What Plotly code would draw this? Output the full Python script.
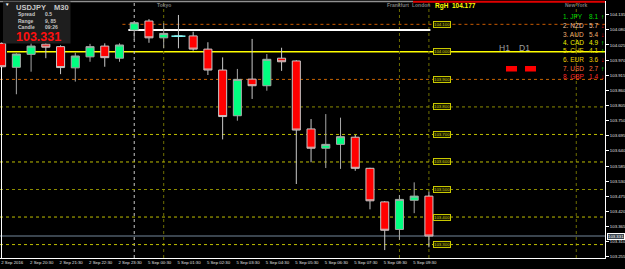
import plotly.graph_objects as go

# ---------------- data ----------------
bars = list(range(30))
opens  = [104.031, 103.944, 103.991, 104.028, 104.019, 103.942, 103.982, 104.021, 103.977, 104.079,
          104.112, 104.051, 104.057, 104.058, 104.010, 103.934, 103.768, 103.901, 103.877, 103.977,
          103.967, 103.720, 103.650, 103.664, 103.690, 103.577, 103.455, 103.355, 103.461, 103.476]
highs  = [104.034, 103.995, 104.031, 104.032, 104.024, 103.997, 104.029, 104.031, 104.031, 104.110,
          104.119, 104.104, 104.134, 104.073, 104.035, 103.980, 103.938, 104.047, 103.992, 104.015,
          103.970, 103.756, 103.774, 103.761, 103.698, 103.579, 103.458, 103.480, 103.526, 103.492]
lows   = [103.940, 103.846, 103.928, 103.977, 103.919, 103.892, 103.964, 103.946, 103.964, 104.043,
          104.033, 104.013, 104.013, 104.004, 103.916, 103.682, 103.750, 103.829, 103.859, 103.931,
          103.520, 103.599, 103.578, 103.575, 103.568, 103.428, 103.280, 103.317, 103.414, 103.290]
closes = [103.946, 103.992, 104.021, 104.017, 103.943, 103.985, 104.019, 103.979, 104.025, 104.106,
          104.051, 104.067, 104.057, 104.010, 103.934, 103.765, 103.900, 103.877, 103.973, 103.964,
          103.716, 103.650, 103.664, 103.692, 103.577, 103.459, 103.352, 103.464, 103.476, 103.331]

tick_bars = [0, 2, 4, 6, 8, 10, 12, 14, 16, 18, 20, 22, 24, 26, 28]
tick_dates = ["2 Sep 2016", "2 Sep 20:30", "2 Sep 21:30", "2 Sep 22:30", "2 Sep 23:30",
              "5 Sep 00:30", "5 Sep 01:30", "5 Sep 02:30", "5 Sep 03:30", "5 Sep 04:30",
              "5 Sep 05:30", "5 Sep 06:30", "5 Sep 07:30", "5 Sep 08:30", "5 Sep 09:30"]
price_ticks = [104.135, 104.080, 104.025, 103.970, 103.915, 103.860, 103.805, 103.750, 103.695,
               103.640, 103.585, 103.530, 103.475, 103.420, 103.365, 103.310, 103.255]

levels = [104.100, 104.000, 103.900, 103.800, 103.700, 103.600, 103.500, 103.400, 103.300]
level_colors = ["#C85A00", "#FFFF00", "#C86400", "#8C8C00", "#BEBE00", "#BEBE00", "#8C8C00", "#BEBE00", "#BEBE00"]

day_sep_bar = 9
sessions = ["Tokyo", "Frankfurt", "London", "New York"]
session_bars = [11, 27, 29, 39]

currencies = ["JPY", "NZD", "AUD", "CAD", "CHF", "EUR", "USD", "GBP"]
strength = [8.1, 5.7, 5.4, 4.9, 4.1, 3.6, 2.7, 1.4]
trend = ["up", "down", "down", "up", "up", "down", "up", "down"]
cur_colors = ["#00DC00", "#F2C4A0", "#F0B070", "#F0F000", "#E6DC00", "#F0D000", "#FF6A3C", "#FF2828"]

symbol = "USDJPY"
timeframe = "M30"
spread = "0.5"
rng = "9, 85"
candle_left = "09:26"
range_high = 104.177

# ---------------- geometry helpers ----------------
PW, PH, T = 605.0, 257.0, 1.0
def px(x):
    return x / PW
def py(y):
    return 1 - (y - T) / PH

fig = go.Figure()

fig.add_trace(go.Candlestick(
    x=bars, open=opens, high=highs, low=lows, close=closes,
    increasing=dict(fillcolor="#00FF80", line=dict(color="#A8A8A8", width=1)),
    decreasing=dict(fillcolor="#FF0000", line=dict(color="#C8C8C8", width=1)),
    whiskerwidth=0, hoverinfo="skip"))

doji = [i for i in bars if abs(opens[i] - closes[i]) < 0.0015 and i == 12]
fig.add_trace(go.Scatter(x=doji, y=[opens[i] for i in doji], mode="markers",
                         marker=dict(symbol="line-ew", size=10, line=dict(color="#80FFFF", width=1.5)),
                         hoverinfo="skip"))

shapes = []
# horizontal level lines
for lvl, col in zip(levels, level_colors):
    if lvl == 104.000:
        shapes.append(dict(type="line", xref="paper", yref="y", x0=px(7), x1=1, y0=lvl, y1=lvl,
                           line=dict(color=col, width=1.5), layer="below"))
    else:
        x0 = 8.2 if lvl == 104.100 else -0.11
        shapes.append(dict(type="line", xref="x", yref="y", x0=x0, x1=40.95, y0=lvl, y1=lvl,
                           line=dict(color=col, width=1, dash="dot"), layer="below"))
# day open line
shapes.append(dict(type="line", xref="x", yref="y", x0=day_sep_bar - 0.4, x1=bars[-1] + 0.1,
                   y0=opens[day_sep_bar], y1=opens[day_sep_bar], line=dict(color="#FFFFFF", width=2), layer="below"))
# current price line
shapes.append(dict(type="line", xref="paper", yref="y", x0=0, x1=1, y0=closes[-1], y1=closes[-1],
                   line=dict(color="#3A444E", width=2), layer="below"))
# vertical separators
shapes.append(dict(type="line", xref="x", yref="paper", x0=day_sep_bar, x1=day_sep_bar, y0=0, y1=1,
                   line=dict(color="#C8C8C8", width=1, dash="dot"), layer="below"))
for b in session_bars:
    shapes.append(dict(type="line", xref="x", yref="paper", x0=b, x1=b, y0=0, y1=1,
                       line=dict(color="#6E6E00", width=1, dash="dot"), layer="below"))
# top frame bars
shapes.append(dict(type="line", xref="paper", yref="paper", x0=0, x1=px(413), y0=py(1.5), y1=py(1.5),
                   line=dict(color="#909090", width=1.5)))
shapes.append(dict(type="line", xref="paper", yref="paper", x0=px(413), x1=1, y0=py(1.8), y1=py(1.8),
                   line=dict(color="#E00000", width=2)))
# left border
shapes.append(dict(type="line", xref="paper", yref="paper", x0=px(1.5), x1=px(1.5), y0=0, y1=py(67),
                   line=dict(color="#FFFFFF", width=1)))
# info box
shapes.append(dict(type="rect", xref="paper", yref="paper", x0=px(3), x1=px(70.5), y0=py(43.5), y1=py(1.5),
                   fillcolor="#1E1E1E", line=dict(width=0)))
# red blocks
for x0 in (506, 525):
    shapes.append(dict(type="rect", xref="paper", yref="paper", x0=px(x0), x1=px(x0 + 11), y0=py(71.5), y1=py(66),
                       fillcolor="#FF0000", line=dict(width=0)))

ann = []
FONT = "Liberation Sans"
def text(x, y, s, size, color, anchor="left", bold=False, xref="paper", yref="paper", **kw):
    ann.append(dict(x=x, y=y, xref=xref, yref=yref, text=("<b>%s</b>" % s) if bold else s,
                    showarrow=False, xanchor=anchor, yanchor="middle",
                    font=dict(family=FONT, size=size, color=color), **kw))

# info panel
text(px(3), py(4.5), "▼", 4.5, "#FFFFFF")
text(px(14), py(7), symbol, 7.5, "#C8C8C8", bold=True)
text(px(52), py(7), timeframe, 7.5, "#C8C8C8", bold=True)
text(px(16), py(14.3), "Spread", 5, "#C8C8C8", bold=True)
text(px(42.5), py(14.3), spread, 5, "#C8C8C8", bold=True)
text(px(16), py(20.7), "Range", 5, "#C8C8C8", bold=True)
text(px(42.5), py(20.7), rng, 5, "#C8C8C8", bold=True)
text(px(16), py(26.7), "Candle", 5, "#C8C8C8", bold=True)
text(px(42.5), py(26.7), candle_left, 5, "#C8C8C8", bold=True)
text(px(14), py(37.2), "%.3f" % closes[-1], 12.5, "#FF1010", bold=True)

# session labels
for name, b in zip(sessions, session_bars):
    if name == "London":
        text(px(432), py(5), name, 5, "#7C7C7C", anchor="right", bold=True)
    elif name == "Frankfurt":
        text(px(411), py(5), name, 5, "#7C7C7C", anchor="right", bold=True)
    else:
        text(b, py(5), name, 5, "#7C7C7C", anchor="center", bold=True, xref="x")
text(px(433), py(6.3), "RgH  %.3f" % range_high, 6.5, "#FFFF00", bold=True)

# level boxes
for lvl in levels:
    text(px(433), lvl, "%.3f" % lvl, 4.3, "#C8C800", yref="y",
         bgcolor="#1A1A00", bordercolor="#C8C800", borderwidth=1, borderpad=0)

# currency strength
row_y = [16.3, 25.0, 34.3, 43.0, 51.0, 59.7, 68.3, 76.3]
for k, (c, s, t, col) in enumerate(zip(currencies, strength, trend, cur_colors)):
    text(px(560.5), py(row_y[k]), "%d. %s" % (k + 1, c), 6.5, col)
    text(px(586.5), py(row_y[k]), "%.1f" % s, 6.5, col)
    text(px(599), py(row_y[k]), "↑" if t == "up" else "↓", 6.5,
         "#00FF00" if t == "up" else "#FF0000", bold=True)

text(px(497), py(48), "H1", 8.5, "#A0A0A0")
text(px(517), py(48), "D1", 8.5, "#A0A0A0")

# current price tag on axis
text(px(607), closes[-1], "%.3f" % closes[-1], 4.3, "#FFFFFF", yref="y",
     bgcolor="#3A444E", bordercolor="#FFFFFF", borderwidth=1, borderpad=0)

fig.update_layout(
    width=625, height=269, margin=dict(l=0, r=20, t=1, b=11),
    paper_bgcolor="#000000", plot_bgcolor="#000000", showlegend=False,
    boxgap=0.22, font=dict(family=FONT), shapes=shapes, annotations=ann,
    xaxis=dict(range=[-0.11, 40.95], showgrid=False, zeroline=False, showline=True,
               linecolor="#FFFFFF", linewidth=1, tickvals=[b + 0.72 for b in tick_bars],
               ticktext=tick_dates, ticks="", tickfont=dict(size=4.3, color="#E0E0E0"),
               rangeslider=dict(visible=False), automargin=False, fixedrange=True),
    yaxis=dict(side="right", range=[103.2512, 104.1848], tickvals=price_ticks, tickformat=".3f",
               ticks="outside", ticklen=3, tickcolor="#FFFFFF", showline=True, linecolor="#FFFFFF",
               linewidth=1, showgrid=False, zeroline=False, tickfont=dict(size=4.3, color="#E0E0E0"),
               automargin=False, fixedrange=True),
)

fig.write_html("out.html")
